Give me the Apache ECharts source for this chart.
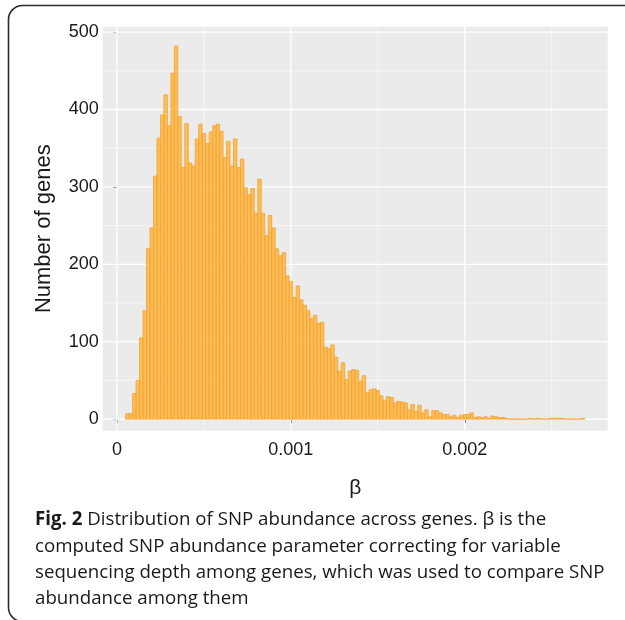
<!DOCTYPE html>
<html>
<head>
<meta charset="utf-8">
<script src="https://cdn.jsdelivr.net/npm/echarts@6/dist/echarts.min.js"></script>
<style>
html,body{margin:0;padding:0;background:#fff;}
#c{width:625px;height:620px;}
</style>
</head>
<body>
<div id="c"></div>
<script>
// Histogram bins: left edge of first bin and bin width (units of beta)
const binStart = 0.00005;
const binWidth = 0.00002;
// Number of genes per bin
const counts = [
  7, 7, 33, 50, 105, 140, 220, 247, 314, 363,
  393, 419, 379, 447, 482, 391, 325, 382, 331, 327,
  362, 381, 369, 356, 371, 379, 381, 372, 338, 359,
  327, 362, 325, 336, 299, 290, 298, 266, 310, 266,
  237, 263, 247, 220, 211, 215, 185, 178, 157, 172,
  154, 147, 140, 130, 134, 124, 125, 93, 91, 96,
  80, 62, 73, 51, 62, 64, 63, 49, 56, 34,
  38, 39, 37, 30, 24, 29, 28, 21, 23, 22,
  21, 12, 19, 10, 18, 8, 12, 3, 11, 11,
  8, 6, 6, 3, 5, 2, 5, 6, 6, 8,
  2, 3, 2, 3, 1, 4, 3, 2, 2, 1,
  0, 0, 0, 0, 0, 0, 1, 0, 1, 0,
  0, 0, 1, 1, 1, 1, 0, 0, 0, 0,
  0, 1
];
const xTicks = [0, 0.001, 0.002];
const xTickLabels = ['0', '0.001', '0.002'];
const xMinor = [0.0005, 0.0015, 0.0025];
const yTicks = [0, 100, 200, 300, 400, 500];
const yTickLabels = ['0', '100', '200', '300', '400', '500'];
const yMinor = [50, 150, 250, 350, 450];
const xRange = [-0.000082, 0.002822];
const yRange = [-15, 507];

const captionLines = [
  'Distribution of SNP abundance across genes. β is the',
  'computed SNP abundance parameter correcting for variable',
  'sequencing depth among genes, which was used to compare SNP',
  'abundance among them'
];

const histData = counts.map((c, i) => [binStart + i * binWidth, binStart + (i + 1) * binWidth, c]);

function labelFor(ticks, labels, v) {
  for (let i = 0; i < ticks.length; i++) {
    if (Math.abs(ticks[i] - v) < 1e-9) return labels[i];
  }
  return '';
}

const chart = echarts.init(document.getElementById('c'), null, {renderer: 'canvas'});

function gridLineSeries(values, dim, width) {
  return {
    type: 'custom',
    silent: true,
    z: 1,
    data: values.map(v => [v]),
    encode: dim === 'x' ? {x: 0} : {y: 0},
    renderItem: function (params, api) {
      const cs = params.coordSys;
      const v = api.value(0);
      if (dim === 'y') {
        const y = api.coord([xRange[0], v])[1];
        return {type: 'line', shape: {x1: cs.x, y1: y, x2: cs.x + cs.width, y2: y},
          style: {stroke: '#ffffff', lineWidth: width}};
      } else {
        const x = api.coord([v, yRange[0]])[0];
        return {type: 'line', shape: {x1: x, y1: cs.y, x2: x, y2: cs.y + cs.height},
          style: {stroke: '#ffffff', lineWidth: width}};
      }
    }
  };
}

const fontFam = '"Liberation Sans", Arial, sans-serif';
const capFont = '"Open Sans", sans-serif';
const capSize = 18.7;

chart.setOption({
  animation: false,
  grid: {
    left: 102.7, right: 17.3, top: 26.7, bottom: 189.3,
    show: true, backgroundColor: '#EBEBEB', borderWidth: 0
  },
  xAxis: {
    type: 'value',
    min: xRange[0], max: xRange[1],
    axisLine: {show: false},
    splitLine: {show: false},
    axisTick: {show: true, customValues: xTicks, length: 4, lineStyle: {color: '#333', width: 1}},
    axisLabel: {
      customValues: xTicks,
      formatter: v => labelFor(xTicks, xTickLabels, v),
      fontSize: 18, color: '#1a1a1a', margin: 10, fontFamily: fontFam
    },
    name: 'β',
    nameLocation: 'middle',
    nameGap: 47,
    nameTextStyle: {fontSize: 21, color: '#1a1a1a', fontFamily: fontFam}
  },
  yAxis: {
    type: 'value',
    min: yRange[0], max: yRange[1],
    axisLine: {show: false},
    splitLine: {show: false},
    axisTick: {show: true, customValues: yTicks, length: 4, lineStyle: {color: '#333', width: 1}},
    axisLabel: {
      customValues: yTicks,
      formatter: v => labelFor(yTicks, yTickLabels, v),
      fontSize: 18, color: '#1a1a1a', margin: 4, fontFamily: fontFam
    },
    name: 'Number of genes',
    nameLocation: 'middle',
    nameRotate: 90,
    nameGap: 48,
    nameTextStyle: {fontSize: 22, color: '#1a1a1a', fontFamily: fontFam}
  },
  series: [
    gridLineSeries(yMinor, 'y', 0.6),
    gridLineSeries(xMinor, 'x', 0.6),
    gridLineSeries(yTicks, 'y', 1.3),
    gridLineSeries(xTicks, 'x', 1.3),
    {
      type: 'custom',
      z: 5,
      data: histData,
      encode: {x: [0, 1], y: 2},
      renderItem: function (params, api) {
        const x0 = api.value(0), x1 = api.value(1), c = api.value(2);
        const p0 = api.coord([x0, 0]);
        const p1 = api.coord([x1, c]);
        return {
          type: 'rect',
          shape: {x: p0[0], y: p1[1], width: p1[0] - p0[0], height: p0[1] - p1[1]},
          style: {fill: 'rgba(255,172,30,0.72)', stroke: '#F9A233', lineWidth: 0.8}
        };
      }
    }
  ],
  graphic: [
    {
      type: 'rect', silent: true, z: 0,
      shape: {x: 8.5, y: 5.5, width: 700, height: 616, r: 14},
      style: {fill: 'none', stroke: '#2b2b2b', lineWidth: 1.6}
    },
    {
      type: 'text', left: 35, top: 510, z: 10,
      style: {
        text: '{b|Fig. 2} ' + captionLines[0],
        rich: {b: {fontWeight: 'bold', fontSize: capSize, fontFamily: capFont, fill: '#1a1a1a'}},
        fontSize: capSize, fontFamily: capFont, fill: '#1a1a1a'
      }
    },
    {
      type: 'text', left: 35, top: 537, z: 10,
      style: {text: captionLines[1], fontSize: capSize, fontFamily: capFont, fill: '#1a1a1a'}
    },
    {
      type: 'text', left: 35, top: 563, z: 10,
      style: {text: captionLines[2], fontSize: capSize, fontFamily: capFont, fill: '#1a1a1a'}
    },
    {
      type: 'text', left: 35, top: 589, z: 10,
      style: {text: captionLines[3], fontSize: capSize, fontFamily: capFont, fill: '#1a1a1a'}
    }
  ]
});
</script>
</body>
</html>
